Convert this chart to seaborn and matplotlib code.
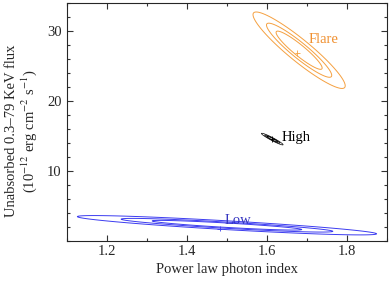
import numpy as np
import matplotlib
matplotlib.use("Agg")
import matplotlib.pyplot as plt
from matplotlib.ticker import MultipleLocator
import seaborn as sns

# best-fit values and approximate error-ellipse shapes
sources = ["Flare", "High", "Low"]
colors = ["#f5a040", "#000000", "#3c3cf0"]
text_colors = ["#f09030", "#000000", "#3535c0"]
gamma_best = [1.675, 1.613, 1.482]
flux_best = [26.8, 14.5, 1.67]
center_gamma = [1.680, 1.613, 1.500]
center_flux = [27.2, 14.5, 2.19]
sigma_gamma = [0.0379, 0.0089, 0.123]
sigma_flux = [1.80, 0.275, 0.455]
rho = [-0.93, -0.96, -0.89]
delta_chi2 = [2.30, 4.61, 9.21]
label_gamma = [1.704, 1.636, 1.495]
label_flux = [28.67, 14.74, 2.81]
yticks = [10, 20, 30]

sns.set_style("ticks")
plt.rcParams["font.family"] = ["Liberation Serif", "DejaVu Serif"]
plt.rcParams["mathtext.fontset"] = "stix"

fig = plt.figure(figsize=(3.9, 2.93), dpi=100)
ax = fig.add_axes([0.171, 0.179, 0.822, 0.812])

for i, name in enumerate(sources):
    gx = np.linspace(center_gamma[i] - 4 * sigma_gamma[i], center_gamma[i] + 4 * sigma_gamma[i], 400)
    gy = np.linspace(center_flux[i] - 4 * sigma_flux[i], center_flux[i] + 4 * sigma_flux[i], 400)
    X, Y = np.meshgrid(gx, gy)
    u = (X - center_gamma[i]) / sigma_gamma[i]
    v = (Y - center_flux[i]) / sigma_flux[i]
    chi = (u**2 - 2 * rho[i] * u * v + v**2) / (1 - rho[i]**2)
    ax.contour(X, Y, chi, levels=delta_chi2, colors=colors[i],
               linewidths=0.5 if name == "High" else 0.7)
    ax.text(label_gamma[i], label_flux[i], name, color=text_colors[i], fontsize=10.5,
            ha="left", va="center")

sns.scatterplot(x=gamma_best, y=flux_best, hue=sources, palette=colors, marker="+",
                s=14, linewidth=0.6, legend=False, ax=ax)

ax.set_xlim(1.1, 1.9)
ax.set_ylim(0, 34)
ax.xaxis.set_major_locator(MultipleLocator(0.2))
ax.xaxis.set_minor_locator(MultipleLocator(0.1))
ax.set_yticks(yticks)
ax.yaxis.set_minor_locator(MultipleLocator(2))
ax.tick_params(which="both", direction="in", top=True, right=True, labelsize=10.5,
               color="#333333", width=0.8)
ax.tick_params(which="major", length=4.5)
ax.tick_params(which="minor", length=2.5)
for sp in ax.spines.values():
    sp.set_linewidth(0.8)

ax.set_xlabel("Power law photon index", fontsize=10.5, labelpad=3)
ax.set_ylabel("Unabsorbed 0.3\u201379 KeV flux\n"
              r"(10$^{-12}$ erg cm$^{-2}$ s$^{-1}$)", fontsize=10.5,
              linespacing=1.15)
ax.yaxis.set_label_coords(-0.085, 0.46)

fig.savefig("out.png", dpi=100)
